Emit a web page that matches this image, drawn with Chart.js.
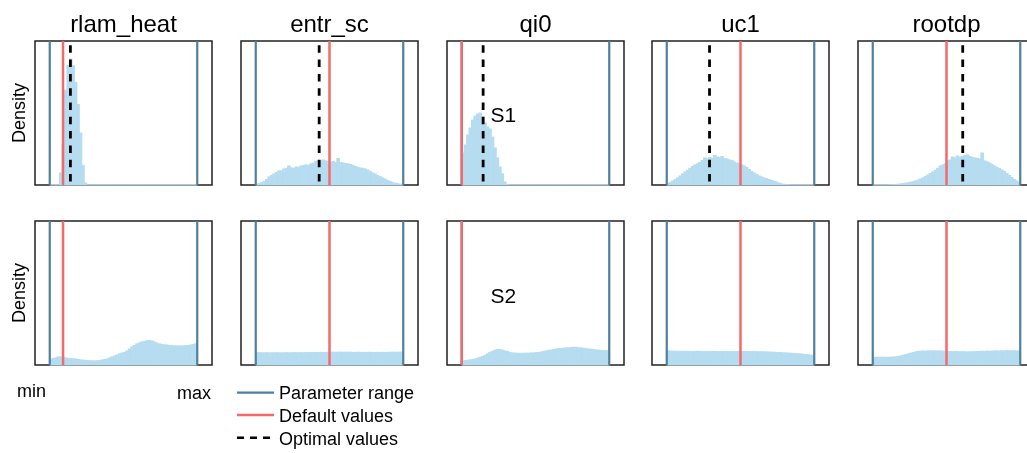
<!DOCTYPE html>
<html>
<head>
<meta charset="utf-8">
<script src="https://cdn.jsdelivr.net/npm/chart.js@4.4.1/dist/chart.umd.min.js"></script>
<style>
  html, body { margin: 0; padding: 0; background: #fff; width: 1027px; height: 453px; overflow: hidden; position: relative; }
  .panel { position: absolute; }
  #labels { position: absolute; left: 0; top: 0; pointer-events: none; font-family: 'Liberation Sans', Arial, sans-serif; z-index: 2; }
</style>
</head>
<body>
<svg id="labels" width="1027" height="453" xmlns="http://www.w3.org/2000/svg">
  <g fill="#000" font-size="24" text-anchor="middle" id="titles"></g>
  <text transform="translate(25,113) rotate(-90)" text-anchor="middle" font-size="18">Density</text>
  <text transform="translate(25,293) rotate(-90)" text-anchor="middle" font-size="18">Density</text>
  <text x="490.5" y="121.5" font-size="21">S1</text>
  <text x="490.5" y="303" font-size="21">S2</text>
  <text x="17" y="397" font-size="18">min</text>
  <text x="177" y="399" font-size="18">max</text>
  <line x1="237" x2="274" y1="392.7" y2="392.7" stroke="#4f809e" stroke-width="2.2"/>
  <line x1="237" x2="274" y1="415" y2="415" stroke="#f46a6a" stroke-width="2.5"/>
  <line x1="237" x2="274" y1="437.7" y2="437.7" stroke="#000" stroke-width="2.5" stroke-dasharray="7,6"/>
  <text x="279" y="399" font-size="18">Parameter range</text>
  <text x="279" y="422" font-size="18">Default values</text>
  <text x="279" y="445" font-size="18">Optimal values</text>
</svg>
<script>
// Parameters, their default and optimal values on the normalised [min, max] range
const PARAMS = ['rlam_heat', 'entr_sc', 'qi0', 'uc1', 'rootdp'];
const DEFAULT_VALUES = [0.09, 0.50, 0.00, 0.50, 0.50];
const OPTIMAL_VALUES = [0.14, 0.43, 0.145, 0.29, 0.61];
const RANGE = [0, 1];

// S1 posterior densities (60 equal bins between min and max)
const s1_rlam_heat = [
  0, 0, 0, 0, 0.92, 3.10, 7.30, 9.20, 9.70, 9.20,
  7.90, 6.20, 4.00, 1.50, 0.15, 0, 0, 0, 0, 0,
  0, 0, 0, 0, 0, 0, 0, 0, 0, 0,
  0, 0, 0, 0, 0, 0, 0, 0, 0, 0,
  0, 0, 0, 0, 0, 0, 0, 0, 0, 0,
  0, 0, 0, 0, 0, 0, 0, 0, 0, 0
];
const s1_entr_sc = [
  0.06, 0.10, 0.18, 0.27, 0.42, 0.62, 0.73, 0.85, 0.96, 1.08,
  1.08, 1.23, 1.27, 1.46, 1.31, 1.27, 1.38, 1.35, 1.46, 1.50,
  1.54, 1.50, 1.62, 1.69, 1.81, 1.88, 1.85, 1.92, 1.85, 1.81,
  1.77, 1.81, 1.73, 2.04, 1.73, 1.69, 1.65, 1.62, 1.58, 1.50,
  1.42, 1.35, 1.31, 1.27, 1.23, 1.15, 1.04, 0.92, 0.85, 0.73,
  0.65, 0.54, 0.46, 0.35, 0.27, 0.19, 0.15, 0.10, 0.06, 0.04
];
const s1_qi0 = [
  2.46, 3.08, 3.85, 4.38, 5.00, 5.31, 5.46, 5.54, 5.23, 4.77,
  4.46, 4.31, 3.69, 2.85, 2.08, 1.38, 0.85, 0.23, 0.04, 0,
  0, 0, 0, 0, 0, 0, 0, 0, 0, 0,
  0, 0, 0, 0, 0, 0, 0, 0, 0, 0,
  0, 0, 0, 0, 0, 0, 0, 0, 0, 0,
  0, 0, 0, 0, 0, 0, 0, 0, 0, 0
];
const s1_uc1 = [
  0.12, 0.19, 0.31, 0.42, 0.54, 0.69, 0.85, 1.00, 1.12, 1.27,
  1.42, 1.54, 1.62, 1.73, 1.88, 2.08, 2.00, 2.12, 2.04, 2.27,
  2.15, 2.12, 2.19, 2.04, 2.00, 1.92, 1.88, 1.77, 1.69, 1.62,
  1.54, 1.46, 1.35, 1.19, 1.04, 0.92, 0.81, 0.69, 0.62, 0.54,
  0.48, 0.42, 0.35, 0.29, 0.23, 0.15, 0.09, 0.05, 0.03, 0.02,
  0, 0, 0, 0, 0, 0, 0, 0, 0, 0
];
const s1_rootdp = [
  0, 0, 0, 0, 0, 0, 0.01, 0.02, 0.02, 0.04,
  0.05, 0.08, 0.10, 0.13, 0.17, 0.21, 0.25, 0.31, 0.38, 0.46,
  0.54, 0.65, 0.77, 0.88, 1.00, 1.12, 1.27, 1.46, 1.54, 1.62,
  1.85, 1.92, 2.15, 2.08, 2.23, 2.12, 2.19, 2.27, 2.31, 2.19,
  2.12, 2.08, 2.04, 2.00, 2.46, 1.85, 1.77, 1.69, 1.58, 1.46,
  1.35, 1.27, 1.15, 1.04, 0.88, 0.73, 0.58, 0.42, 0.31, 0.19
];

// S2 posterior densities
const s2_rlam_heat = [
  0.46, 0.50, 0.54, 0.62, 0.62, 0.58, 0.54, 0.50, 0.50, 0.46,
  0.46, 0.42, 0.38, 0.37, 0.35, 0.33, 0.32, 0.31, 0.31, 0.32,
  0.35, 0.38, 0.42, 0.46, 0.54, 0.62, 0.69, 0.77, 0.85, 0.92,
  0.96, 1.08, 1.23, 1.38, 1.50, 1.62, 1.69, 1.77, 1.81, 1.85,
  1.88, 1.85, 1.77, 1.69, 1.62, 1.58, 1.54, 1.54, 1.50, 1.50,
  1.46, 1.46, 1.46, 1.46, 1.46, 1.50, 1.50, 1.54, 1.58, 1.62
];
const s2_entr_sc = [
  0.96, 0.94, 0.93, 0.93, 0.94, 0.92, 0.93, 0.93, 0.94, 0.93,
  0.92, 0.93, 0.94, 0.93, 0.94, 0.95, 0.94, 0.94, 0.95, 0.94,
  0.95, 0.96, 0.95, 0.96, 0.96, 0.95, 0.97, 0.96, 0.96, 0.97,
  0.97, 0.98, 0.97, 0.98, 0.98, 0.97, 0.98, 0.97, 0.98, 0.97,
  0.96, 0.98, 0.97, 0.96, 0.97, 0.96, 0.97, 0.96, 0.96, 0.97,
  0.96, 0.97, 0.96, 0.97, 0.97, 0.98, 0.97, 0.97, 0.98, 0.98
];
const s2_qi0 = [
  0.31, 0.33, 0.36, 0.38, 0.42, 0.46, 0.52, 0.58, 0.65, 0.73,
  0.85, 0.96, 1.04, 1.12, 1.19, 1.19, 1.14, 1.08, 1.04, 0.96,
  0.92, 0.91, 0.90, 0.89, 0.89, 0.90, 0.90, 0.91, 0.92, 0.92,
  0.95, 0.96, 1.00, 1.04, 1.08, 1.12, 1.15, 1.19, 1.23, 1.25,
  1.27, 1.29, 1.31, 1.31, 1.33, 1.36, 1.35, 1.32, 1.31, 1.28,
  1.25, 1.23, 1.21, 1.18, 1.15, 1.14, 1.12, 1.10, 1.09, 1.08
];
const s2_uc1 = [
  1.08, 1.06, 1.06, 1.05, 1.04, 1.05, 1.04, 1.05, 1.04, 1.04,
  1.03, 1.04, 1.05, 1.04, 1.03, 1.04, 1.04, 1.03, 1.04, 1.03,
  1.03, 1.02, 1.03, 1.03, 1.02, 1.03, 1.02, 1.02, 1.03, 1.02,
  1.03, 1.04, 1.03, 1.02, 1.03, 1.02, 1.02, 1.01, 1.02, 1.01,
  1.00, 0.99, 0.98, 0.98, 0.96, 0.95, 0.95, 0.93, 0.92, 0.91,
  0.90, 0.88, 0.87, 0.85, 0.84, 0.82, 0.80, 0.78, 0.75, 0.72
];
const s2_rootdp = [
  0.58, 0.59, 0.58, 0.59, 0.59, 0.58, 0.59, 0.60, 0.60, 0.62,
  0.65, 0.69, 0.75, 0.79, 0.85, 0.90, 0.95, 1.00, 1.04, 1.06,
  1.07, 1.06, 1.08, 1.07, 1.08, 1.08, 1.07, 1.08, 1.06, 1.05,
  1.04, 1.03, 1.02, 1.03, 1.02, 1.01, 1.02, 1.01, 1.00, 1.01,
  1.01, 1.02, 1.03, 1.04, 1.05, 1.04, 1.06, 1.05, 1.06, 1.07,
  1.08, 1.07, 1.09, 1.08, 1.10, 1.09, 1.08, 1.09, 1.08, 1.07
];

const ROWS = [
  [s1_rlam_heat, s1_entr_sc, s1_qi0, s1_uc1, s1_rootdp],
  [s2_rlam_heat, s2_entr_sc, s2_qi0, s2_uc1, s2_rootdp]
];

// Layout and styling
const Y_MAX = 11.1;
const X_MIN = -0.1, X_MAX = 1.1;
const BOX_LEFT = [35, 241, 447, 652, 858];
const ROW_TOP = [41, 221];
const BOX_W = 177, BOX_H = 144, PAD = 2;
const BLUE = '#4f809e', RED = '#f46a6a', BAR = '#b6dcf0';

// Titles above the top row
const titles = document.getElementById('titles');
PARAMS.forEach((p, i) => {
  const t = document.createElementNS('http://www.w3.org/2000/svg', 'text');
  t.setAttribute('x', BOX_LEFT[i] + BOX_W / 2);
  t.setAttribute('y', 32);
  t.textContent = p;
  titles.appendChild(t);
});

// Panel frame plus a light baseline across the parameter range
const framePlugin = {
  id: 'frame',
  beforeDatasetsDraw(chart) {
    const { ctx, chartArea: a, scales } = chart;
    ctx.save();
    ctx.strokeStyle = '#222';
    ctx.lineWidth = 1.5;
    ctx.strokeRect(a.left, a.top, a.right - a.left, a.bottom - a.top);
    ctx.strokeStyle = '#a9b9c4';
    ctx.beginPath();
    ctx.moveTo(scales.x.getPixelForValue(RANGE[0]), a.bottom);
    ctx.lineTo(scales.x.getPixelForValue(RANGE[1]), a.bottom);
    ctx.stroke();
    ctx.restore();
  }
};

const svg = document.getElementById('labels');
const vline = v => [{ x: v, y: Y_MAX }, { x: v, y: 0 }];

function drawPanel(row, col) {
  const dens = ROWS[row][col];
  const wrap = document.createElement('div');
  wrap.className = 'panel';
  wrap.style.left = (BOX_LEFT[col] - PAD) + 'px';
  wrap.style.top = (ROW_TOP[row] - PAD) + 'px';
  const canvas = document.createElement('canvas');
  canvas.width = BOX_W + 2 * PAD;
  canvas.height = BOX_H + 2 * PAD;
  wrap.appendChild(canvas);
  document.body.insertBefore(wrap, svg);

  const n = dens.length;
  const step = (RANGE[1] - RANGE[0]) / n;
  const bins = dens.map((d, i) => ({ x: RANGE[0] + (i + 0.5) * step, y: d }));

  const datasets = [];
  if (row === 0) {
    datasets.push({ type: 'line', data: vline(OPTIMAL_VALUES[col]), borderColor: '#000', borderWidth: 2.8,
      borderDash: [7.5, 6.8], borderDashOffset: 10, pointRadius: 0 });
  }
  datasets.push({ type: 'line', data: vline(DEFAULT_VALUES[col]), borderColor: RED, borderWidth: 2.5, pointRadius: 0 });
  datasets.push({ type: 'line', data: vline(RANGE[0]), borderColor: BLUE, borderWidth: 2.2, pointRadius: 0 });
  datasets.push({ type: 'line', data: vline(RANGE[1]), borderColor: BLUE, borderWidth: 2.2, pointRadius: 0 });
  datasets.push({ type: 'bar', data: bins, backgroundColor: BAR, borderWidth: 0,
    barPercentage: 1, categoryPercentage: 1, inflateAmount: 0.6 });

  new Chart(canvas, {
    type: 'bar',
    data: { datasets },
    options: {
      responsive: false,
      animation: false,
      events: [],
      layout: { padding: PAD },
      plugins: { legend: { display: false }, tooltip: { enabled: false } },
      scales: {
        x: { type: 'linear', min: X_MIN, max: X_MAX, display: false, offset: false },
        y: { min: 0, max: Y_MAX, display: false }
      }
    },
    plugins: [framePlugin]
  });
}

for (let r = 0; r < 2; r++) {
  for (let c = 0; c < PARAMS.length; c++) drawPanel(r, c);
}
</script>
</body>
</html>
